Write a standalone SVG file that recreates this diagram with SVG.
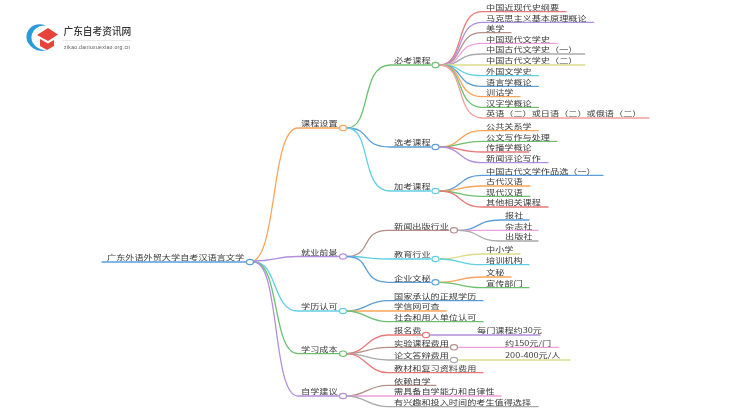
<svg xmlns="http://www.w3.org/2000/svg" width="750" height="410" viewBox="0 0 750 410">
<defs><filter id="soft" x="0" y="0" width="750" height="410" filterUnits="userSpaceOnUse"><feGaussianBlur stdDeviation="0.3"/></filter></defs>
<style>
text{font-family:"Noto Sans CJK SC","Liberation Sans",sans-serif;font-size:7.04px;fill:#3c3c3c}
path{fill:none;stroke-width:1.3;stroke-linecap:round}
ellipse{fill:#fff;stroke-width:1.2}
.r{stroke:#e8797b}.p{stroke:#b28fdc}.b{stroke:#b09088}.k{stroke:#ee9fdc}.g{stroke:#aaa}.y{stroke:#dcdc8c}.c{stroke:#5fd0e4}.u{stroke:#5b9fd8}.o{stroke:#fba55a}.n{stroke:#6cc070}.s{stroke:#f3a0a0}
</style>
<rect width="750" height="410" fill="#fff"/>
<g filter="url(#soft)">
<g id="logo">
<path d="M46 25.500C30 20 22 36 29 44C33 50 40 52 47 50.500C38 50 31 44 31.500 37C32 30 38 25 46 25.500Z" style="fill:#2b9bd8;stroke:none"/>
<polygon points="37,35 48,28 58,34.500 48,41" fill="#e8423c"/>
<polygon points="40,39 48,43.500 54,40 54,46 47,50 40,46" fill="#e8423c"/>
<text x="63.500" y="35" style="font-size:9.7px;fill:#333;font-weight:500">广东自考资讯网</text>
<path d="M63 40.500H131" style="stroke:#ddd;stroke-width:.7"/>
<text x="64" y="48.500" textLength="66" style="font-size:5px;fill:#555;font-family:'Liberation Sans',sans-serif">zikao.daniuxuexiao.org.cn</text>
</g>
<g id="connectors">
<path class="u" d="M102 262H246"/>
<path class="o" d="M250 262C278 262 270 128 298 128H339"/>
<path class="p" d="M254 261C275 261 275 256.500 298 256.500H339"/>
<path class="c" d="M254 262C278 262 272 311 298 311H339"/>
<path class="n" d="M254 262C280 262 272 353.700 298 353.700H339"/>
<path class="p" d="M254 262C280 262 272 396 298 396H339"/>
<path class="n" d="M347 128C372 128 360 65 390 65H431"/>
<path class="u" d="M347 128C372 128 360 147 390 147H431"/>
<path class="c" d="M347 128C372 128 360 191 390 191H431"/>
<path class="b" d="M347 256.500C372 256.500 360 230.300 388 230.300H449"/>
<path class="c" d="M347 256.500C372 256.500 360 259 388 259H431"/>
<path class="u" d="M347 256.500C372 256.500 360 282.300 388 282.300H431"/>
<path class="u" d="M347 311C365 311 368 300.700 388 300.700H483"/>
<path class="o" d="M347 311C365 311 368 311 388 311H446"/>
<path class="n" d="M347 311C365 311 368 321.700 388 321.700H483"/>
<path class="r" d="M347 353.700C365 353.700 368 335 388 335H422"/>
<path class="b" d="M347 353.700C365 353.700 368 347.300 388 347.300H449"/>
<path class="g" d="M347 353.700C365 353.700 368 360 388 360H449"/>
<path class="r" d="M347 353.700C365 353.700 368 372.700 388 372.700H483"/>
<path class="b" d="M347 396C365 396 368 385.300 388 385.300H436"/>
<path class="k" d="M347 396C365 396 368 396 388 396H501"/>
<path class="g" d="M347 396C365 396 368 406.700 388 406.700H538"/>
<path class="r" d="M440 65C465 65 455 11.700 482 11.700H566"/>
<path class="p" d="M440 65C465 65 455 22.300 482 22.300H593.700"/>
<path class="b" d="M440 65C465 65 455 32.700 482 32.700H511"/>
<path class="k" d="M440 65C465 65 455 43.300 482 43.300H557"/>
<path class="g" d="M440 65C465 65 455 54 482 54H584.700"/>
<path class="y" d="M440 65C465 65 455 65 482 65H585"/>
<path class="c" d="M440 65C465 65 455 75.700 482 75.700H538.500"/>
<path class="u" d="M440 65C465 65 455 86.300 482 86.300H538.500"/>
<path class="o" d="M440 65C465 65 455 96.700 482 96.700H520"/>
<path class="n" d="M440 65C465 65 455 107.300 482 107.300H538.500"/>
<path class="s" d="M440 65C465 65 455 118 482 118H649"/>
<path class="o" d="M440 147C462 147 458 130.700 482 130.700H538"/>
<path class="n" d="M440 147C462 147 458 141.300 482 141.300H557"/>
<path class="r" d="M440 147C462 147 458 152 482 152H529"/>
<path class="p" d="M440 147C462 147 458 162.700 482 162.700H548"/>
<path class="u" d="M440 191C462 191 458 175.300 482 175.300H603"/>
<path class="o" d="M440 191C462 191 458 186 482 186H530"/>
<path class="n" d="M440 191C462 191 458 196.300 482 196.300H530"/>
<path class="r" d="M440 191C462 191 458 207 482 207H548"/>
<path class="u" d="M458 230.300C480 230.300 476 220 500 220H529"/>
<path class="k" d="M458 230.300C480 230.300 476 230.300 500 230.300H538"/>
<path class="g" d="M458 230.300C480 230.300 476 241 500 241H538"/>
<path class="y" d="M440 259C462 259 458 254 482 254H520"/>
<path class="c" d="M440 259C462 259 458 264.700 482 264.700H529"/>
<path class="o" d="M440 282.300C462 282.300 458 277 482 277H511"/>
<path class="n" d="M440 282.300C462 282.300 458 287.700 482 287.700H529"/>
<path class="p" d="M430 335H540"/>
<path class="k" d="M458 347.300H558.700"/>
<path class="y" d="M458 360H570"/>
</g>
<g id="root"><ellipse class="u" cx="250" cy="262" rx="3.500" ry="2.700"/><text transform="matrix(1.3 0 0 1 107 260.200)">广东外语外贸大学自考汉语言文学</text></g>
<g id="n1"><ellipse class="o" cx="343" cy="128" rx="3.500" ry="2.700"/><text transform="matrix(1.3 0 0 1 301 126.200)">课程设置</text></g>
<g id="n2"><ellipse class="p" cx="343" cy="256.500" rx="3.500" ry="2.700"/><text transform="matrix(1.3 0 0 1 301 254.700)">就业前景</text></g>
<g id="n3"><ellipse class="c" cx="343" cy="311" rx="3.500" ry="2.700"/><text transform="matrix(1.3 0 0 1 301 309.200)">学历认可</text></g>
<g id="n4"><ellipse class="n" cx="343" cy="353.700" rx="3.500" ry="2.700"/><text transform="matrix(1.3 0 0 1 301 351.900)">学习成本</text></g>
<g id="n5"><ellipse class="p" cx="343" cy="396" rx="3.500" ry="2.700"/><text transform="matrix(1.3 0 0 1 301 394.200)">自学建议</text></g>
<g id="n11"><ellipse class="n" cx="435.500" cy="65" rx="3.500" ry="2.700"/><text transform="matrix(1.3 0 0 1 394 63.200)">必考课程</text></g>
<g id="n12"><ellipse class="u" cx="435.500" cy="147" rx="3.500" ry="2.700"/><text transform="matrix(1.3 0 0 1 394 145.200)">选考课程</text></g>
<g id="n13"><ellipse class="c" cx="435.500" cy="191" rx="3.500" ry="2.700"/><text transform="matrix(1.3 0 0 1 394 189.200)">加考课程</text></g>
<g id="n21"><ellipse class="b" cx="454" cy="230.300" rx="3.500" ry="2.700"/><text transform="matrix(1.3 0 0 1 394 228.500)">新闻出版行业</text></g>
<g id="n22"><ellipse class="c" cx="435.500" cy="259" rx="3.500" ry="2.700"/><text transform="matrix(1.3 0 0 1 394 257.200)">教育行业</text></g>
<g id="n23"><ellipse class="u" cx="435.500" cy="282.300" rx="3.500" ry="2.700"/><text transform="matrix(1.3 0 0 1 394 280.500)">企业文秘</text></g>
<g id="leaves">
<text transform="matrix(1.3 0 0 1 486 9.900)">中国近现代史纲要</text>
<text transform="matrix(1.3 0 0 1 486 20.500)">马克思主义基本原理概论</text>
<text transform="matrix(1.3 0 0 1 486 30.900)">美学</text>
<text transform="matrix(1.3 0 0 1 486 41.500)">中国现代文学史</text>
<text transform="matrix(1.3 0 0 1 486 52.200)">中国古代文学史（一）</text>
<text transform="matrix(1.3 0 0 1 486 63.200)">中国古代文学史（二）</text>
<text transform="matrix(1.3 0 0 1 486 73.900)">外国文学史</text>
<text transform="matrix(1.3 0 0 1 486 84.500)">语言学概论</text>
<text transform="matrix(1.3 0 0 1 486 94.900)">训诂学</text>
<text transform="matrix(1.3 0 0 1 486 105.500)">汉字学概论</text>
<text transform="matrix(1.3 0 0 1 486 116.200)">英语（二）或日语（二）或俄语（二）</text>
<text transform="matrix(1.3 0 0 1 486 128.900)">公共关系学</text>
<text transform="matrix(1.3 0 0 1 486 139.500)">公文写作与处理</text>
<text transform="matrix(1.3 0 0 1 486 150.200)">传播学概论</text>
<text transform="matrix(1.3 0 0 1 486 160.900)">新闻评论写作</text>
<text transform="matrix(1.3 0 0 1 486 173.500)">中国古代文学作品选（一）</text>
<text transform="matrix(1.3 0 0 1 486 184.200)">古代汉语</text>
<text transform="matrix(1.3 0 0 1 486 194.500)">现代汉语</text>
<text transform="matrix(1.3 0 0 1 486 205.200)">其他相关课程</text>
<text transform="matrix(1.3 0 0 1 505 218.200)">报社</text>
<text transform="matrix(1.3 0 0 1 505 228.500)">杂志社</text>
<text transform="matrix(1.3 0 0 1 505 239.200)">出版社</text>
<text transform="matrix(1.3 0 0 1 486 252.200)">中小学</text>
<text transform="matrix(1.3 0 0 1 486 262.900)">培训机构</text>
<text transform="matrix(1.3 0 0 1 486 275.200)">文秘</text>
<text transform="matrix(1.3 0 0 1 486 285.900)">宣传部门</text>
<text transform="matrix(1.3 0 0 1 394 298.900)">国家承认的正规学历</text>
<text transform="matrix(1.3 0 0 1 394 309.200)">学信网可查</text>
<text transform="matrix(1.3 0 0 1 394 319.900)">社会和用人单位认可</text>
<g id="n41"><ellipse class="r" cx="426" cy="335" rx="3.500" ry="2.700"/><text transform="matrix(1.3 0 0 1 394 333.200)">报名费</text></g>
<g id="n42"><ellipse class="b" cx="454" cy="347.300" rx="3.500" ry="2.700"/><text transform="matrix(1.3 0 0 1 394 345.500)">实验课程费用</text></g>
<g id="n43"><ellipse class="g" cx="454" cy="360" rx="3.500" ry="2.700"/><text transform="matrix(1.3 0 0 1 394 358.200)">论文答辩费用</text></g>
<text transform="matrix(1.3 0 0 1 394 370.900)">教材和复习资料费用</text>
<text transform="matrix(1.3 0 0 1 477 333.200)">每门课程约30元</text>
<text transform="matrix(1.3 0 0 1 505 345.500)">约150元/门</text>
<text transform="matrix(1.3 0 0 1 505 358.200)">200-400元/人</text>
<text transform="matrix(1.3 0 0 1 394 383.500)">依赖自学</text>
<text transform="matrix(1.3 0 0 1 394 394.200)">需具备自学能力和自律性</text>
<text transform="matrix(1.3 0 0 1 394 404.900)">有兴趣和投入时间的考生值得选择</text>
</g>
</g>
</svg>
